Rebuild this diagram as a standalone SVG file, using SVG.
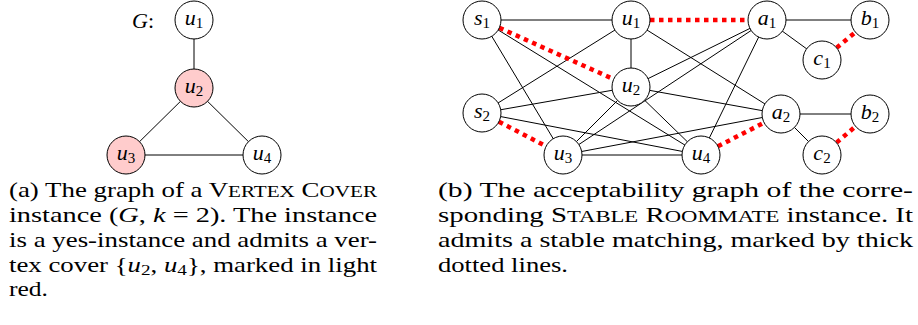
<svg xmlns="http://www.w3.org/2000/svg" width="918" height="325" viewBox="0 0 918 325">
<style>
.e{stroke:#000;stroke-width:1;fill:none}
.m{stroke:#ff0000;stroke-width:4.5;stroke-dasharray:4.5 4.5;fill:none}
.n circle{fill:#fff;stroke:#000;stroke-width:1}
.n.hl circle{fill:#ffcccc}
.n text,.lbl{font-family:'Liberation Serif','Times New Roman',Times,serif;font-style:italic;font-size:22px;text-anchor:middle;fill:#000}
.sub{font-size:15px;font-style:normal}
.cap{font-family:'Liberation Serif','Times New Roman',Times,serif;font-size:21px;fill:#000}
.sc{font-size:16.5px}
.it{font-style:italic}
</style>
<g id="connectors">
<line class="e" x1="194" y1="20" x2="194" y2="88"/>
<line class="e" x1="194" y1="88" x2="126" y2="155"/>
<line class="e" x1="194" y1="88" x2="262" y2="155"/>
<line class="e" x1="126" y1="155" x2="262" y2="155"/>
<line class="e" x1="482" y1="20" x2="631" y2="20"/>
<line class="e" x1="482" y1="20" x2="563" y2="155"/>
<line class="e" x1="482" y1="20" x2="701" y2="155"/>
<line class="e" x1="482" y1="113" x2="631" y2="20"/>
<line class="e" x1="482" y1="113" x2="631" y2="87"/>
<line class="e" x1="482" y1="113" x2="701" y2="155"/>
<line class="e" x1="767" y1="20" x2="631" y2="87"/>
<line class="e" x1="767" y1="20" x2="563" y2="155"/>
<line class="e" x1="767" y1="20" x2="701" y2="155"/>
<line class="e" x1="781" y1="114" x2="631" y2="20"/>
<line class="e" x1="781" y1="114" x2="631" y2="87"/>
<line class="e" x1="781" y1="114" x2="563" y2="155"/>
<line class="e" x1="631" y1="20" x2="631" y2="87"/>
<line class="e" x1="631" y1="87" x2="563" y2="155"/>
<line class="e" x1="631" y1="87" x2="701" y2="155"/>
<line class="e" x1="563" y1="155" x2="701" y2="155"/>
<line class="e" x1="767" y1="20" x2="870" y2="20"/>
<line class="e" x1="767" y1="20" x2="822" y2="60"/>
<line class="e" x1="781" y1="114" x2="870" y2="114"/>
<line class="e" x1="781" y1="114" x2="822" y2="155"/>
<line class="m" x1="499.3" y1="27.8" x2="613.7" y2="79.2"/>
<line class="m" x1="650" y1="20" x2="748" y2="20"/>
<line class="m" x1="498.9" y1="121.7" x2="546.1" y2="146.3"/>
<line class="m" x1="717.9" y1="146.3" x2="764.1" y2="122.7"/>
<line class="m" x1="836.6" y1="47.8" x2="855.4" y2="32.2"/>
<line class="m" x1="836.5" y1="142.6" x2="855.5" y2="126.4"/>
</g>
<text class="lbl" x="143" y="28">G<tspan font-style="normal">:</tspan></text>
<g id="G-u1" class="n"><circle cx="194" cy="20" r="19"/><text x="194" y="25">u<tspan class="sub" dy="3">1</tspan></text></g>
<g id="G-u2" class="n hl"><circle cx="194" cy="88" r="19"/><text x="194" y="93">u<tspan class="sub" dy="3">2</tspan></text></g>
<g id="G-u3" class="n hl"><circle cx="126" cy="155" r="19"/><text x="126" y="160">u<tspan class="sub" dy="3">3</tspan></text></g>
<g id="G-u4" class="n"><circle cx="262" cy="155" r="19"/><text x="262" y="160">u<tspan class="sub" dy="3">4</tspan></text></g>
<g id="s1" class="n"><circle cx="482" cy="20" r="19"/><text x="482" y="25">s<tspan class="sub" dy="3">1</tspan></text></g>
<g id="u1" class="n"><circle cx="631" cy="20" r="19"/><text x="631" y="25">u<tspan class="sub" dy="3">1</tspan></text></g>
<g id="a1" class="n"><circle cx="767" cy="20" r="19"/><text x="767" y="25">a<tspan class="sub" dy="3">1</tspan></text></g>
<g id="b1" class="n"><circle cx="870" cy="20" r="19"/><text x="870" y="25">b<tspan class="sub" dy="3">1</tspan></text></g>
<g id="c1" class="n"><circle cx="822" cy="60" r="19"/><text x="822" y="65">c<tspan class="sub" dy="3">1</tspan></text></g>
<g id="u2" class="n"><circle cx="631" cy="87" r="19"/><text x="631" y="92">u<tspan class="sub" dy="3">2</tspan></text></g>
<g id="s2" class="n"><circle cx="482" cy="113" r="19"/><text x="482" y="118">s<tspan class="sub" dy="3">2</tspan></text></g>
<g id="a2" class="n"><circle cx="781" cy="114" r="19"/><text x="781" y="119">a<tspan class="sub" dy="3">2</tspan></text></g>
<g id="b2" class="n"><circle cx="870" cy="114" r="19"/><text x="870" y="119">b<tspan class="sub" dy="3">2</tspan></text></g>
<g id="u3" class="n"><circle cx="563" cy="155" r="19"/><text x="563" y="160">u<tspan class="sub" dy="3">3</tspan></text></g>
<g id="u4" class="n"><circle cx="701" cy="155" r="19"/><text x="701" y="160">u<tspan class="sub" dy="3">4</tspan></text></g>
<g id="c2" class="n"><circle cx="822" cy="155" r="19"/><text x="822" y="160">c<tspan class="sub" dy="3">2</tspan></text></g>
<g id="caption-a" class="cap">
<text x="9" y="197.3" textLength="368" lengthAdjust="spacingAndGlyphs">(a) The graph of a V<tspan class="sc">ERTEX</tspan> C<tspan class="sc">OVER</tspan></text>
<text x="9" y="222" textLength="368" lengthAdjust="spacingAndGlyphs">instance (<tspan class="it">G</tspan>, <tspan class="it">k</tspan> = 2). The instance</text>
<text x="9" y="246.7" textLength="368" lengthAdjust="spacingAndGlyphs">is a yes-instance and admits a ver-</text>
<text x="9" y="271.5" textLength="368" lengthAdjust="spacingAndGlyphs">tex cover {<tspan class="it">u</tspan><tspan class="sub" dy="3">2</tspan><tspan dy="-3">, </tspan><tspan class="it">u</tspan><tspan class="sub" dy="3">4</tspan><tspan dy="-3">}, marked in light</tspan></text>
<text x="9" y="296.3" textLength="39" lengthAdjust="spacingAndGlyphs">red.</text>
</g>
<g id="caption-b" class="cap">
<text x="438" y="197.3" textLength="475" lengthAdjust="spacingAndGlyphs">(b) The acceptability graph of the corre-</text>
<text x="438" y="222" textLength="475" lengthAdjust="spacingAndGlyphs">sponding S<tspan class="sc">TABLE</tspan> R<tspan class="sc">OOMMATE</tspan> instance. It</text>
<text x="438" y="246.7" textLength="475" lengthAdjust="spacingAndGlyphs">admits a stable matching, marked by thick</text>
<text x="438" y="271.5" textLength="130" lengthAdjust="spacingAndGlyphs">dotted lines.</text>
</g>
</svg>
